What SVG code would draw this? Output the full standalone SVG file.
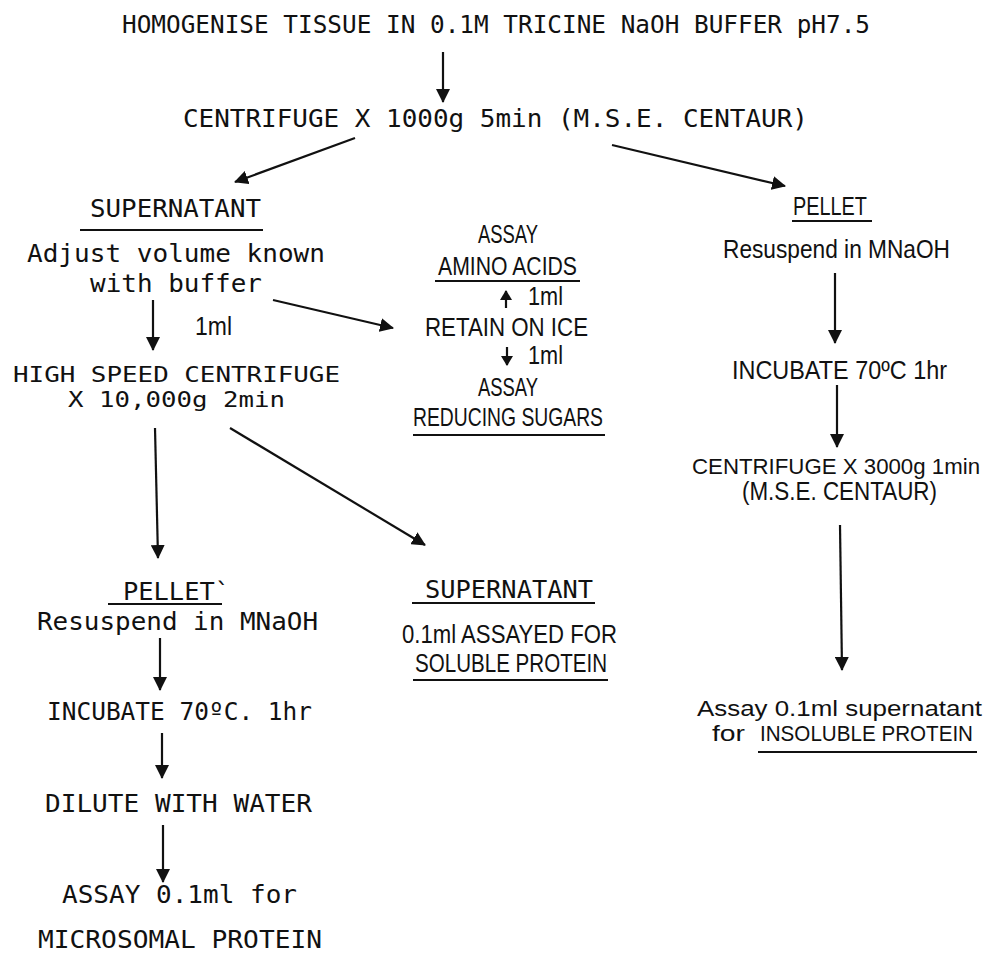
<svg xmlns="http://www.w3.org/2000/svg" width="988" height="955" viewBox="0 0 988 955">
<style>
.m{font-family:"DejaVu Sans Mono","Liberation Mono",monospace;font-size:24.5px;fill:#111}
.t{font-family:"DejaVu Sans Mono","Liberation Mono",monospace;font-size:22px;fill:#111}
.c{font-family:"Liberation Sans","DejaVu Sans",sans-serif;font-size:25px;fill:#111}
.d{font-family:"Liberation Sans","DejaVu Sans",sans-serif;font-size:22px;fill:#111}
.u{stroke:#111;stroke-width:2}
.a{stroke:#111;stroke-width:2.2;fill:none;marker-end:url(#ah)}
.s{stroke:#111;stroke-width:2.2;fill:none;marker-end:url(#sh)}
</style>
<defs>
<marker id="ah" viewBox="0 0 14 14" refX="13" refY="7" markerWidth="14" markerHeight="14" markerUnits="userSpaceOnUse" orient="auto"><path d="M0,0 L14,7 L0,14 z" fill="#111"/></marker>
<marker id="sh" viewBox="0 0 10 12" refX="9" refY="6" markerWidth="10" markerHeight="12" markerUnits="userSpaceOnUse" orient="auto"><path d="M0,0 L10,6 L0,12 z" fill="#111"/></marker>
</defs>
<rect width="988" height="955" fill="#fff"/>
<g id="homogenise"><text class="m" x="122" y="33" textLength="748" lengthAdjust="spacingAndGlyphs">HOMOGENISE TISSUE IN 0.1M TRICINE NaOH BUFFER pH7.5</text></g>
<g id="centrifuge1"><text class="m" x="183" y="127" textLength="625" lengthAdjust="spacingAndGlyphs">CENTRIFUGE X 1000g 5min (M.S.E. CENTAUR)</text></g>
<g id="supernatant1">
<text class="m" x="90" y="217" textLength="171" lengthAdjust="spacingAndGlyphs">SUPERNATANT</text>
<line class="u" x1="80" y1="230" x2="263" y2="230"/>
<text class="m" x="27" y="262" textLength="298" lengthAdjust="spacingAndGlyphs">Adjust volume known</text>
<text class="m" x="90" y="292" textLength="172" lengthAdjust="spacingAndGlyphs">with buffer</text>
</g>
<g id="label-1ml"><text class="c" x="195" y="335" textLength="37" lengthAdjust="spacingAndGlyphs">1ml</text></g>
<g id="highspeed">
<text class="t" x="13" y="382" textLength="327" lengthAdjust="spacingAndGlyphs">HIGH SPEED CENTRIFUGE</text>
<text class="t" x="68" y="407" textLength="217" lengthAdjust="spacingAndGlyphs">X 10,000g 2min</text>
</g>
<g id="retain">
<text class="c" x="478" y="243" textLength="60" lengthAdjust="spacingAndGlyphs">ASSAY</text>
<text class="c" x="438" y="275" textLength="139" lengthAdjust="spacingAndGlyphs">AMINO ACIDS</text>
<line class="u" x1="435" y1="281" x2="580" y2="281"/>
<text class="c" x="528" y="305" textLength="35" lengthAdjust="spacingAndGlyphs">1ml</text>
<text class="c" x="425" y="336" textLength="163" lengthAdjust="spacingAndGlyphs">RETAIN ON ICE</text>
<text class="c" x="528" y="364" textLength="35" lengthAdjust="spacingAndGlyphs">1ml</text>
<text class="c" x="478" y="396" textLength="60" lengthAdjust="spacingAndGlyphs">ASSAY</text>
<text class="c" x="413" y="426" textLength="190" lengthAdjust="spacingAndGlyphs">REDUCING SUGARS</text>
<line class="u" x1="413" y1="435" x2="605" y2="435"/>
</g>
<g id="pellet1">
<text class="c" x="793" y="215" textLength="74" lengthAdjust="spacingAndGlyphs">PELLET</text>
<line class="u" x1="792" y1="221" x2="872" y2="221"/>
<text class="c" x="723" y="258" textLength="227" lengthAdjust="spacingAndGlyphs">Resuspend in MNaOH</text>
</g>
<g id="incubate1"><text class="c" x="732" y="379" textLength="215" lengthAdjust="spacingAndGlyphs">INCUBATE 70ºC 1hr</text></g>
<g id="centrifuge2">
<text class="d" x="692" y="474" textLength="288" lengthAdjust="spacingAndGlyphs">CENTRIFUGE X 3000g 1min</text>
<text class="c" x="742" y="500" textLength="195" lengthAdjust="spacingAndGlyphs">(M.S.E. CENTAUR)</text>
</g>
<g id="insoluble">
<text class="d" x="697" y="716" textLength="285" lengthAdjust="spacingAndGlyphs">Assay 0.1ml supernatant</text>
<text class="d" x="712" y="741" textLength="33" lengthAdjust="spacingAndGlyphs">for</text>
<text class="d" x="760" y="741" textLength="213" lengthAdjust="spacingAndGlyphs">INSOLUBLE PROTEIN</text>
<line class="u" x1="758" y1="752" x2="977" y2="752"/>
</g>
<g id="supernatant2">
<text class="m" x="425" y="598" textLength="168" lengthAdjust="spacingAndGlyphs">SUPERNATANT</text>
<line class="u" x1="412" y1="603" x2="595" y2="603"/>
<text class="c" x="402" y="643" textLength="215" lengthAdjust="spacingAndGlyphs">0.1ml ASSAYED FOR</text>
<text class="c" x="415" y="672" textLength="192" lengthAdjust="spacingAndGlyphs">SOLUBLE PROTEIN</text>
<line class="u" x1="413" y1="680" x2="608" y2="680"/>
</g>
<g id="pellet2">
<text class="m" x="123" y="600" textLength="107" lengthAdjust="spacingAndGlyphs">PELLET`</text>
<line class="u" x1="108" y1="604" x2="222" y2="604"/>
<text class="m" x="37" y="630" textLength="281" lengthAdjust="spacingAndGlyphs">Resuspend in MNaOH</text>
</g>
<g id="incubate2"><text class="m" x="47" y="720" textLength="265" lengthAdjust="spacingAndGlyphs">INCUBATE 70ºC. 1hr</text></g>
<g id="dilute"><text class="m" x="45" y="812" textLength="267" lengthAdjust="spacingAndGlyphs">DILUTE WITH WATER</text></g>
<g id="microsomal">
<text class="m" x="62" y="903" textLength="235" lengthAdjust="spacingAndGlyphs">ASSAY 0.1ml for</text>
<text class="m" x="38" y="948" textLength="284" lengthAdjust="spacingAndGlyphs">MICROSOMAL PROTEIN</text>
</g>
<g id="connectors">
<line class="a" x1="443" y1="52" x2="443" y2="102"/>
<line class="a" x1="355" y1="138" x2="235" y2="182"/>
<line class="a" x1="612" y1="145" x2="785" y2="186"/>
<line class="a" x1="153" y1="300" x2="153" y2="350"/>
<line class="a" x1="273" y1="300" x2="393" y2="328"/>
<line class="s" x1="506" y1="308" x2="506" y2="291"/>
<line class="s" x1="507" y1="347" x2="507" y2="365"/>
<line class="a" x1="835" y1="273" x2="835" y2="343"/>
<line class="a" x1="837" y1="385" x2="837" y2="447"/>
<line class="a" x1="840" y1="525" x2="842" y2="670"/>
<line class="a" x1="155" y1="428" x2="158" y2="558"/>
<line class="a" x1="230" y1="428" x2="425" y2="545"/>
<line class="a" x1="160" y1="638" x2="160" y2="690"/>
<line class="a" x1="162" y1="733" x2="162" y2="778"/>
<line class="a" x1="163" y1="825" x2="163" y2="882"/>
</g>
</svg>
